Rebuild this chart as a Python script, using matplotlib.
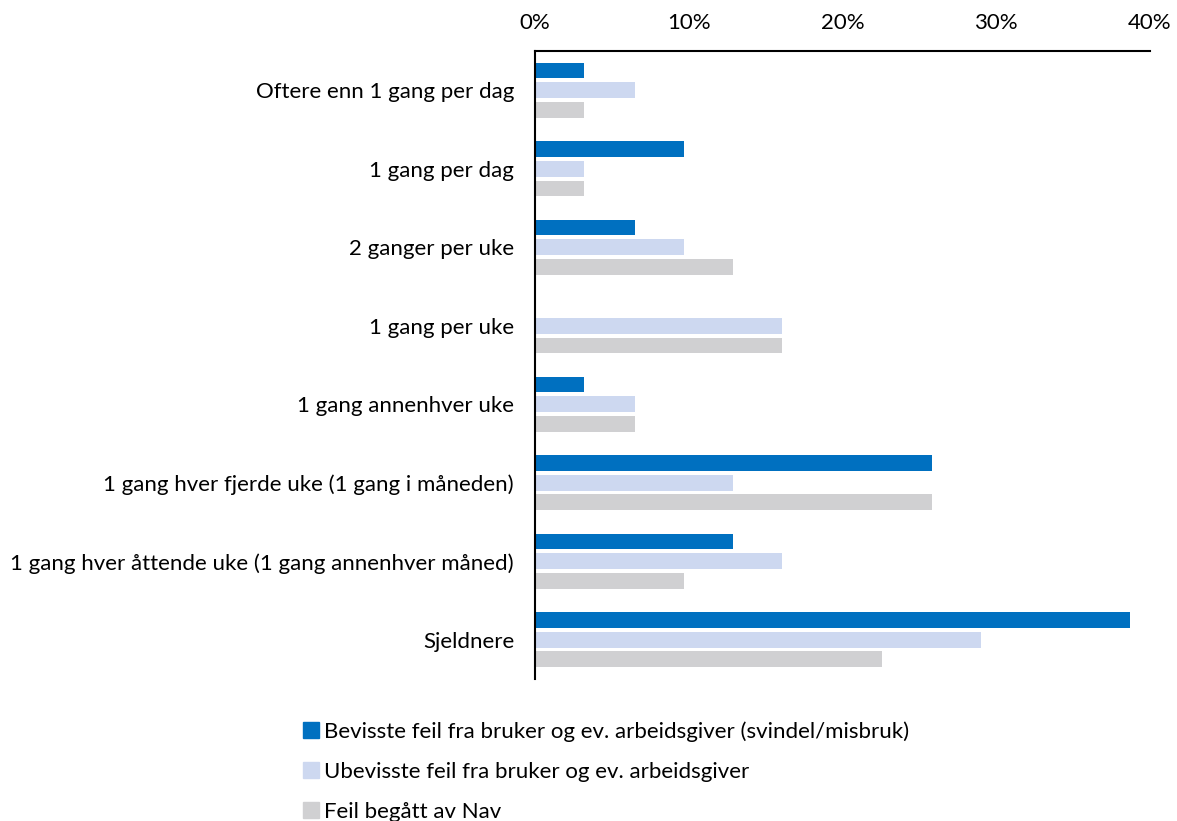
import numpy as np
import matplotlib.pyplot as plt
from matplotlib.patches import Patch
from matplotlib.ticker import FuncFormatter

categories = [
    "Oftere enn 1 gang per dag",
    "1 gang per dag",
    "2 ganger per uke",
    "1 gang per uke",
    "1 gang annenhver uke",
    "1 gang hver fjerde uke (1 gang i måneden)",
    "1 gang hver åttende uke (1 gang annenhver måned)",
    "Sjeldnere",
]
series_names = [
    "Bevisste feil fra bruker og ev. arbeidsgiver (svindel/misbruk)",
    "Ubevisste feil fra bruker og ev. arbeidsgiver",
    "Feil begått av Nav",
]
bevisste = [3.2, 9.7, 6.5, 0.0, 3.2, 25.8, 12.9, 38.7]
ubevisste = [6.5, 3.2, 9.7, 16.1, 6.5, 12.9, 16.1, 29.0]
nav = [3.2, 3.2, 12.9, 16.1, 6.5, 25.8, 9.7, 22.6]
colors = ["#0070C0", "#CDD8F0", "#D0D0D2"]

plt.rcParams["font.family"] = ["Lato", "DejaVu Sans"]

fig = plt.figure(figsize=(11.77, 8.21), dpi=100)
ax = fig.add_axes([0.4545, 0.173, 0.5225, 0.7649])

y = np.arange(len(categories))
h = 0.2
off = 0.25
for i, (vals, c) in enumerate(zip([bevisste, ubevisste, nav], colors)):
    ax.barh(y + (i - 1) * off, vals, height=h, color=c)

ax.set_ylim(len(categories) - 0.5, -0.5)
ax.set_xlim(0, 40)
ax.set_xticks([0, 10, 20, 30, 40])
ax.xaxis.set_major_formatter(FuncFormatter(lambda v, p: f"{v:.0f}%"))
ax.xaxis.tick_top()
ax.set_yticks(y)
ax.set_yticklabels(categories)
ax.tick_params(axis="x", length=0, pad=13, labelsize=16)
ax.tick_params(axis="y", length=0, pad=15, labelsize=16)
for s in ["right", "bottom"]:
    ax.spines[s].set_visible(False)
ax.spines["top"].set_linewidth(1.5)
ax.spines["left"].set_linewidth(1.5)

handles = [Patch(color=c) for c in colors]
fig.legend(handles, series_names, loc="upper left", bbox_to_anchor=(0.2495, 0.132),
           frameon=False, fontsize=16, handlelength=0.75, handleheight=0.75,
           handletextpad=0.2, labelspacing=0.9, borderaxespad=0)

fig.savefig("out.png", dpi=100)
